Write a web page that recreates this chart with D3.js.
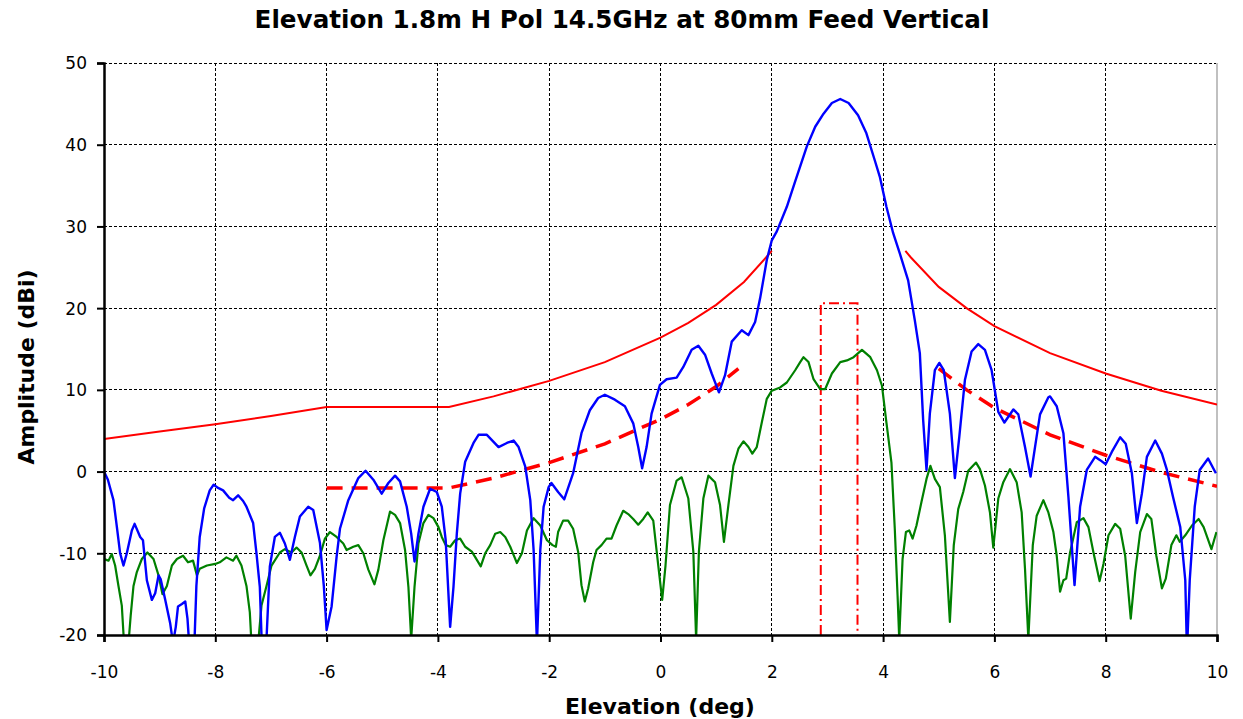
<!DOCTYPE html>
<html>
<head>
<meta charset="utf-8">
<script src="https://cdn.jsdelivr.net/npm/d3@7/dist/d3.min.js"></script>
<style>
  html, body { margin: 0; padding: 0; background: #ffffff; }
  svg { display: block; }
</style>
</head>
<body>
<svg id="chart" width="1243" height="719"></svg>
<script>
// ---------------- DATA ----------------
const chartTitle = "Elevation 1.8m H Pol 14.5GHz at 80mm Feed Vertical";
const xAxisTitle = "Elevation (deg)";
const yAxisTitle = "Amplitude (dBi)";
const xTicks = [-10, -8, -6, -4, -2, 0, 2, 4, 6, 8, 10];
const yTicks = [-20, -10, 0, 10, 20, 30, 40, 50];

// Co-polar measured pattern [deg, dBi]
const coPol = [
  [-10,0],[-9.93,-1],[-9.83,-3.5],[-9.77,-6.7],[-9.71,-10],[-9.65,-11.5],[-9.59,-10],[-9.5,-7.2],[-9.45,-6.4],
  [-9.35,-8],[-9.3,-8.4],[-9.23,-13.3],[-9.14,-15.7],[-9.08,-14.9],[-9.02,-12.7],[-8.98,-13.2],[-8.9,-15.7],
  [-8.81,-18.6],[-8.76,-21],[-8.71,-19],[-8.67,-16.5],[-8.6,-16.2],[-8.54,-15.9],[-8.5,-18],[-8.46,-22],
  [-8.38,-22],[-8.34,-14],[-8.28,-8],[-8.2,-4.5],[-8.1,-2.3],[-8.03,-1.6],[-7.95,-2],[-7.86,-2.3],[-7.75,-3.2],
  [-7.68,-3.5],[-7.59,-2.9],[-7.5,-3.6],[-7.44,-4.3],[-7.32,-6.3],[-7.26,-10],[-7.2,-14.1],[-7.16,-22],
  [-7.09,-22],[-7.02,-11.6],[-6.93,-8],[-6.84,-7.5],[-6.75,-8.8],[-6.66,-10.8],[-6.57,-8],[-6.48,-5.5],
  [-6.33,-4.3],[-6.24,-4.7],[-6.12,-8.7],[-6.05,-14],[-6.0,-19.4],[-5.91,-16.5],[-5.82,-10.4],[-5.76,-7],
  [-5.61,-3.5],[-5.43,-0.8],[-5.3,0.1],[-5.16,-1.0],[-5.01,-2.7],[-4.89,-1.4],[-4.77,-0.5],[-4.68,-1.2],
  [-4.56,-4.3],[-4.48,-7.6],[-4.42,-11],[-4.35,-7.6],[-4.26,-4.3],[-4.14,-2.1],[-4.02,-2.5],[-3.93,-4.3],
  [-3.86,-8.4],[-3.78,-19],[-3.72,-14.1],[-3.66,-7.6],[-3.6,-2.7],[-3.51,1.2],[-3.36,3.5],[-3.27,4.5],
  [-3.12,4.5],[-2.91,3.0],[-2.76,3.5],[-2.64,3.8],[-2.55,3.0],[-2.43,0.6],[-2.34,-3.5],[-2.28,-9.6],
  [-2.22,-21],[-2.16,-9.6],[-2.1,-4.3],[-2.01,-1.9],[-1.96,-1.4],[-1.84,-2.5],[-1.73,-3.4],[-1.57,-0.2],
  [-1.42,4.7],[-1.27,7.5],[-1.12,9.0],[-1.0,9.4],[-0.82,8.8],[-0.64,8.0],[-0.49,5.9],[-0.4,3.0],[-0.33,0.4],
  [-0.25,3.0],[-0.16,7.1],[-0.01,10.6],[0.11,11.3],[0.29,11.5],[0.41,12.8],[0.56,14.9],[0.68,15.4],
  [0.8,14.3],[0.92,12.0],[1.05,9.7],[1.16,11.8],[1.28,15.9],[1.46,17.3],[1.58,16.7],[1.7,18.3],[1.79,21.2],
  [1.91,25.9],[2.0,28.3],[2.09,29.4],[2.27,32.4],[2.42,35.5],[2.63,39.8],[2.78,42.2],[2.93,43.8],[3.08,45.1],
  [3.23,45.6],[3.38,45.1],[3.55,43.6],[3.7,41.4],[3.85,38.1],[3.94,36.1],[4.06,32.4],[4.18,29.2],[4.3,26.7],
  [4.45,23.4],[4.57,18.5],[4.66,14.5],[4.72,6.3],[4.78,0.2],[4.84,7.1],[4.93,12.4],[5.01,13.3],[5.09,12.4],
  [5.2,7.1],[5.29,-0.8],[5.37,4.3],[5.47,11.2],[5.59,14.7],[5.71,15.6],[5.83,14.9],[5.95,12.4],[6.07,7.3],
  [6.18,6.0],[6.34,7.6],[6.43,7.0],[6.55,3.0],[6.65,-0.6],[6.73,3.0],[6.82,7.0],[6.97,9.1],[7.0,9.2],
  [7.12,8.0],[7.24,4.7],[7.33,-3.1],[7.44,-13.9],[7.54,-4.3],[7.66,0.2],[7.81,1.8],[7.9,1.4],[8.0,0.9],
  [8.11,2.4],[8.26,4.2],[8.36,3.4],[8.47,-0.2],[8.56,-6.3],[8.65,-2.7],[8.74,1.8],[8.89,3.8],[9.01,2.2],
  [9.1,0.2],[9.21,-3.1],[9.34,-6.8],[9.43,-13.3],[9.46,-22],[9.51,-13.3],[9.6,-4.3],[9.69,0.2],[9.84,1.6],
  [9.98,-0.2]
];

// Cross-polar measured pattern [deg, dBi]
const crossPol = [
  [-10,-10.7],[-9.92,-10.9],[-9.86,-10.1],[-9.8,-11.5],[-9.74,-14],[-9.68,-16.4],[-9.64,-21],[-9.56,-21],
  [-9.52,-17.6],[-9.47,-14],[-9.41,-12.3],[-9.32,-10.7],[-9.22,-9.9],[-9.11,-10.7],[-9.02,-12.7],[-8.95,-15],
  [-8.87,-14],[-8.78,-11.5],[-8.69,-10.7],[-8.58,-10.3],[-8.49,-11.1],[-8.4,-10.9],[-8.33,-12.7],[-8.28,-11.9],
  [-8.15,-11.5],[-8.0,-11.3],[-7.92,-11.1],[-7.8,-10.5],[-7.68,-10.9],[-7.62,-10.3],[-7.53,-11.5],[-7.44,-14],
  [-7.38,-17.2],[-7.35,-21],[-7.23,-21],[-7.17,-16.4],[-7.08,-14],[-6.99,-11.5],[-6.84,-9.9],[-6.75,-9.5],
  [-6.63,-9.9],[-6.54,-9.3],[-6.45,-9.9],[-6.36,-11.5],[-6.29,-12.7],[-6.21,-11.9],[-6.12,-10.3],[-6.03,-8.2],
  [-5.94,-7.4],[-5.82,-8.0],[-5.7,-8.8],[-5.64,-9.6],[-5.52,-9.2],[-5.43,-9.0],[-5.34,-10],[-5.25,-12],
  [-5.14,-13.8],[-5.07,-12],[-4.98,-8.4],[-4.86,-4.9],[-4.77,-5.3],[-4.68,-6.3],[-4.59,-9.6],[-4.53,-14.1],
  [-4.48,-20.5],[-4.42,-14.1],[-4.35,-8.8],[-4.26,-6.3],[-4.17,-5.3],[-4.08,-5.7],[-3.99,-6.8],[-3.93,-8.0],
  [-3.86,-9.0],[-3.78,-9.2],[-3.69,-8.4],[-3.6,-8.2],[-3.51,-9.2],[-3.39,-9.8],[-3.3,-10.8],[-3.23,-11.6],
  [-3.15,-10],[-3.06,-9.0],[-2.97,-7.6],[-2.88,-7.4],[-2.79,-8.0],[-2.7,-9.2],[-2.58,-11.2],[-2.49,-10],
  [-2.4,-7.2],[-2.28,-5.7],[-2.16,-6.6],[-2.04,-8.4],[-1.94,-9.0],[-1.88,-9.2],[-1.84,-7.4],[-1.75,-6.0],
  [-1.66,-6.0],[-1.57,-7.0],[-1.48,-9.8],[-1.42,-13.9],[-1.36,-15.9],[-1.3,-14.3],[-1.21,-11.1],[-1.15,-9.6],
  [-1.06,-9.0],[-0.97,-8.2],[-0.88,-8.2],[-0.79,-6.6],[-0.67,-4.8],[-0.58,-5.2],[-0.49,-5.8],[-0.4,-6.5],
  [-0.31,-5.8],[-0.23,-5.0],[-0.13,-6.0],[-0.04,-11.5],[0.03,-15.7],[0.09,-11.5],[0.17,-4.1],[0.29,-1.1],
  [0.38,-0.7],[0.5,-3.3],[0.59,-9.8],[0.64,-20.5],[0.69,-9.8],[0.77,-3.3],[0.86,-0.5],[0.98,-1.3],[1.07,-4.1],
  [1.14,-8.6],[1.22,-4.1],[1.31,0.7],[1.4,2.8],[1.49,3.7],[1.58,3.0],[1.65,2.2],[1.73,3.0],[1.82,6.0],
  [1.91,8.9],[2.0,9.9],[2.15,10.3],[2.27,10.9],[2.42,12.4],[2.51,13.4],[2.57,14.0],[2.66,13.4],[2.75,11.3],
  [2.87,10.1],[2.96,10.1],[3.08,12.0],[3.23,13.4],[3.35,13.6],[3.47,14.0],[3.62,14.9],[3.77,14.0],[3.89,12.4],
  [3.98,10.5],[4.06,6.0],[4.15,1.1],[4.21,-7.0],[4.26,-15.2],[4.29,-20.5],[4.35,-10.7],[4.41,-7.4],[4.47,-7.2],
  [4.53,-8.2],[4.6,-6.6],[4.69,-3.7],[4.78,-0.9],[4.85,0.7],[4.93,-0.9],[5.02,-1.9],[5.11,-7.8],[5.2,-18.4],
  [5.27,-9.0],[5.35,-4.6],[5.44,-2.5],[5.53,0.1],[5.67,1.1],[5.74,0.3],[5.83,-1.7],[5.92,-5.0],[5.98,-9.3],
  [6.07,-3.3],[6.16,-1.3],[6.28,0.3],[6.4,-1.3],[6.49,-5.0],[6.55,-11.9],[6.61,-20.5],[6.69,-9.0],[6.76,-5.4],
  [6.88,-3.5],[6.97,-5.0],[7.06,-7.4],[7.12,-10.3],[7.18,-14.7],[7.24,-13.3],[7.29,-13.1],[7.36,-9.9],
  [7.48,-6.2],[7.6,-5.7],[7.69,-6.8],[7.78,-9.9],[7.89,-13.4],[7.96,-11.3],[8.05,-7.8],[8.17,-6.4],[8.26,-7.0],
  [8.35,-10.3],[8.45,-18.0],[8.53,-12.3],[8.62,-7.4],[8.74,-5.2],[8.82,-5.8],[8.91,-10.3],[9.01,-14.3],
  [9.08,-13.1],[9.18,-9.0],[9.27,-7.8],[9.33,-8.6],[9.43,-7.8],[9.55,-6.6],[9.67,-5.8],[9.76,-6.8],[9.9,-9.5],
  [9.99,-7.4]
];

// Upper (solid) mask
const upperMaskLeft = [[-10,4.0],[-9,4.9],[-8,5.8],[-7,6.8],[-6,7.9],[-3.8,7.9],[-3,9.2],[-2,11.1],[-1,13.4],
  [0,16.4],[0.5,18.2],[1,20.4],[1.5,23.2],[2,27.0]];
const upperMaskRight = [[4.4,27.0],[4.5,26.2],[5,22.6],[5.5,20.0],[6,17.8],[7,14.5],[8,12.0],[9,9.9],[10,8.2]];

// Lower (dashed) mask
const lowerMaskLeft = [[-6,-2.0],[-3.8,-2.0],[-3,-0.8],[-2,1.1],[-1,3.4],[0,6.4],[0.5,8.2],[1,10.4],[1.4,12.6]];
const lowerMaskRight = [[5,12.6],[5.5,10.0],[6,7.8],[7,4.5],[8,2.0],[9,-0.1],[10,-1.8]];

// Dash-dot box
const boxEdges = [2.88, 3.54];
const boxTop = 20.6;

// ---------------- LAYOUT ----------------
const svg = d3.select("#chart");
const M = { left: 104, right: 1217, top: 63, bottom: 635 };
const x = d3.scaleLinear().domain([-10, 10]).range([M.left, M.right]);
const y = d3.scaleLinear().domain([-20, 50]).range([M.bottom, M.top]);
const FONT = "'DejaVu Sans', Verdana, sans-serif";

svg.append("defs").append("clipPath").attr("id", "plotclip")
  .append("rect").attr("x", M.left).attr("y", M.top)
  .attr("width", M.right - M.left).attr("height", M.bottom - M.top);

// grid
const grid = svg.append("g");
grid.selectAll(".vg").data(xTicks.filter(d => d > -10 && d < 10)).join("line")
  .attr("x1", d => x(d)).attr("x2", d => x(d)).attr("y1", M.top).attr("y2", M.bottom)
  .attr("stroke", "#000").attr("stroke-width", 1).attr("stroke-dasharray", "3,2").attr("shape-rendering", "crispEdges");
grid.selectAll(".hg").data(yTicks.filter(d => d > -20)).join("line")
  .attr("x1", M.left).attr("x2", M.right).attr("y1", d => y(d)).attr("y2", d => y(d))
  .attr("stroke", "#000").attr("stroke-width", 1).attr("stroke-dasharray", "3,2").attr("shape-rendering", "crispEdges");
// right border
svg.append("line").attr("x1", M.right).attr("x2", M.right).attr("y1", M.top).attr("y2", M.bottom)
  .attr("stroke", "#c0c0c0").attr("stroke-width", 2);

const plot = svg.append("g").attr("clip-path", "url(#plotclip)");
const line = d3.line().x(d => x(d[0])).y(d => y(d[1]));

// masks
plot.append("path").attr("d", line(upperMaskLeft)).attr("fill", "none").attr("stroke", "#ff0000").attr("stroke-width", 2);
plot.append("path").attr("d", line(upperMaskRight)).attr("fill", "none").attr("stroke", "#ff0000").attr("stroke-width", 2);
plot.append("path").attr("d", line(lowerMaskLeft)).attr("fill", "none").attr("stroke", "#ff0000").attr("stroke-width", 3.5).attr("stroke-dasharray", "16,9");
plot.append("path").attr("d", line(lowerMaskRight)).attr("fill", "none").attr("stroke", "#ff0000").attr("stroke-width", 3.5).attr("stroke-dasharray", "16,9");

// box
const boxPts = [[boxEdges[0], -20], [boxEdges[0], boxTop], [boxEdges[1], boxTop], [boxEdges[1], -20]];
plot.append("path").attr("d", line(boxPts)).attr("fill", "none").attr("stroke", "#ff0000")
  .attr("stroke-width", 2).attr("stroke-dasharray", "10,4,2,4");

// measured patterns
plot.append("path").attr("d", line(crossPol)).attr("fill", "none").attr("stroke", "#008000").attr("stroke-width", 2.2).attr("stroke-linejoin", "round");
plot.append("path").attr("d", line(coPol)).attr("fill", "none").attr("stroke", "#0000ff").attr("stroke-width", 2.4).attr("stroke-linejoin", "round");

// axes
const fmt = d => String(d);
const xAxis = svg.append("g").attr("transform", `translate(0,${M.bottom})`)
  .call(d3.axisBottom(x).tickValues(xTicks).tickSize(7).tickPadding(24).tickFormat(fmt));
const yAxis = svg.append("g").attr("transform", `translate(${M.left},0)`)
  .call(d3.axisLeft(y).tickValues(yTicks).tickSize(7).tickPadding(10).tickFormat(fmt));
[xAxis, yAxis].forEach(a => {
  a.select(".domain").attr("stroke", "#000").attr("stroke-width", 2.5);
  a.selectAll(".tick line").attr("stroke", "#000").attr("stroke-width", 2);
  a.selectAll(".tick text").attr("fill", "#000").style("font-family", FONT).style("font-size", "17px");
});
yAxis.selectAll(".tick text").attr("dy", "0.35em");

// titles
const t = svg.append("text").attr("x", 622).attr("y", 28).attr("text-anchor", "middle")
  .style("font-family", FONT).style("font-weight", "bold").style("font-size", "19px").text(chartTitle);
const tw = t.node().getComputedTextLength();
t.style("font-size", (19 * 735 / tw).toFixed(2) + "px");

const xt = svg.append("text").attr("x", 660).attr("y", 714).attr("text-anchor", "middle")
  .style("font-family", FONT).style("font-weight", "bold").style("font-size", "18px").text(xAxisTitle);
const xw = xt.node().getComputedTextLength();
xt.style("font-size", (18 * 190 / xw).toFixed(2) + "px");

const yt = svg.append("text").attr("transform", "translate(34,367) rotate(-90)").attr("text-anchor", "middle")
  .style("font-family", FONT).style("font-weight", "bold").style("font-size", "18px").text(yAxisTitle);
const yw = yt.node().getComputedTextLength();
yt.style("font-size", (18 * 195 / yw).toFixed(2) + "px");
</script>
</body>
</html>
